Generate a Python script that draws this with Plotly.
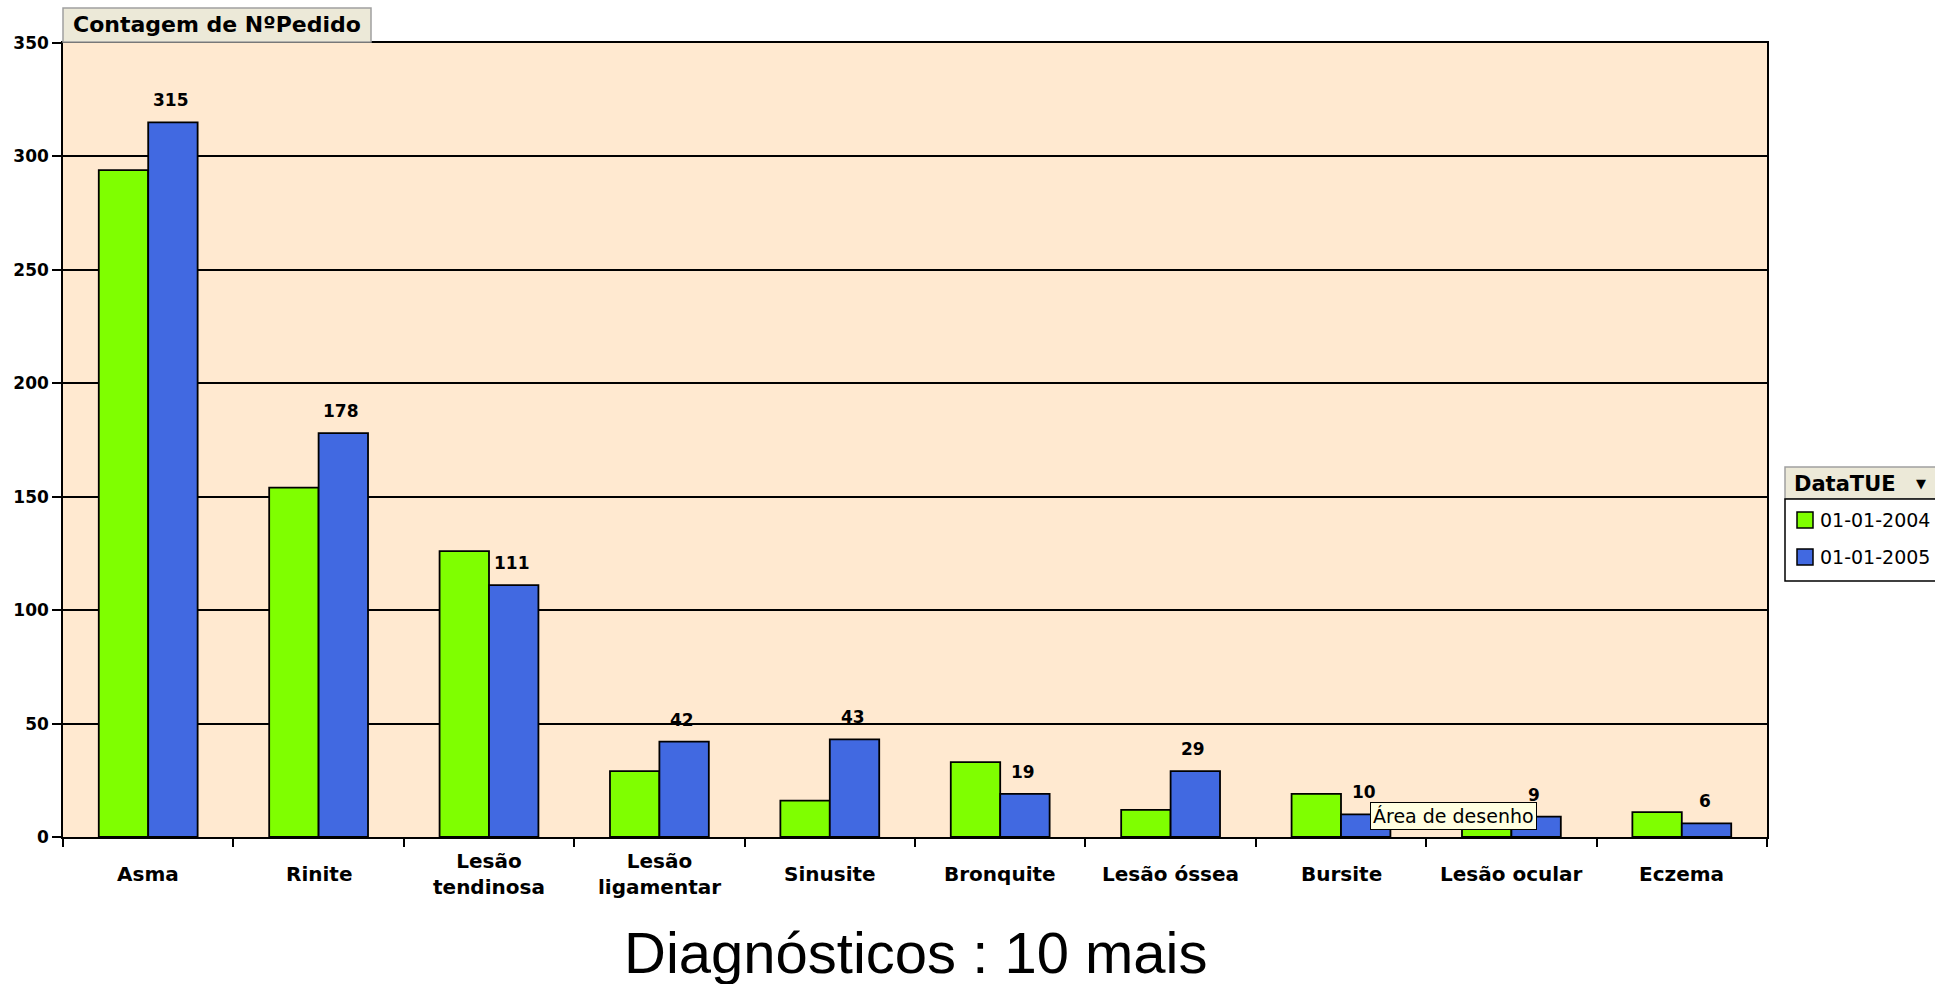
import plotly.graph_objects as go

# chart data
categories = ["Asma", "Rinite", "Lesão tendinosa", "Lesão ligamentar", "Sinusite",
              "Bronquite", "Lesão óssea", "Bursite", "Lesão ocular", "Eczema"]
tick_labels = ["Asma", "Rinite", "Lesão<br>tendinosa", "Lesão<br>ligamentar", "Sinusite",
               "Bronquite", "Lesão óssea", "Bursite", "Lesão ocular", "Eczema"]
series_names = ["01-01-2004", "01-01-2005"]
counts_2004 = [294, 154, 126, 29, 16, 33, 12, 19, 8, 11]
counts_2005 = [315, 178, 111, 42, 43, 19, 29, 10, 9, 6]
y_ticks = [0, 50, 100, 150, 200, 250, 300, 350]

GREEN = "#7FFF00"
BLUE = "#4169E1"
PLOT_BG = "#FFE9D0"
PANEL_BG = "#ECE9D8"
FONT = "DejaVu Sans"
BARGAP = 0.42

W, H = 1935, 984
ML, MR, MT, MB = 63, 168, 43, 147
PW, PH = W - ML - MR, H - MT - MB


def px(x):
    return (x - ML) / PW


def py(y):
    return (H - MB - y) / PH


fig = go.Figure()
for name, vals, col in zip(series_names, [counts_2004, counts_2005], [GREEN, BLUE]):
    fig.add_bar(x=categories, y=vals, name=name, marker_color=col,
                marker_line=dict(color="black", width=1.8))

fig.update_layout(
    width=W, height=H,
    margin=dict(l=ML, r=MR, t=MT, b=MB),
    paper_bgcolor="white",
    plot_bgcolor=PLOT_BG,
    barmode="group",
    bargap=BARGAP,
    bargroupgap=0,
    showlegend=False,
    font=dict(family=FONT, color="black"),
)
fig.update_xaxes(
    showticklabels=False, showline=True, linecolor="black", linewidth=1.5, mirror=True,
    ticks="outside", tickson="boundaries", ticklen=8, tickcolor="black", tickwidth=1.5,
    showgrid=False,
)
fig.update_yaxes(
    range=[0, 350], tickvals=y_ticks, showline=True, linecolor="black", linewidth=1.5,
    mirror=True, ticks="outside", ticklen=9, tickcolor="black", tickwidth=1.5,
    showgrid=True, gridcolor="black", gridwidth=1.5, zeroline=False,
    tickfont=dict(family=FONT, size=17, color="black", weight="bold"),
)

# value labels over the 2005 bars
blue_shift = PW / len(categories) * (1 - BARGAP) / 4
for cat, v in zip(categories, counts_2005):
    fig.add_annotation(x=cat, y=v, text=f"<b>{v}</b>", showarrow=False, yanchor="bottom",
                       xshift=blue_shift - 2, yshift=10,
                       font=dict(family=FONT, size=17, color="black"))

# category labels, vertically centred like the original
for cat, lab in zip(categories, tick_labels):
    fig.add_annotation(x=cat, xref="x", y=py(874), yref="paper", text=f"<b>{lab}</b>",
                       showarrow=False, yanchor="middle",
                       font=dict(family=FONT, size=20, color="black"))

# axis title
fig.add_annotation(x=0.5, xref="paper", y=py(952), yref="paper", text="Diagnósticos : 10 mais",
                   showarrow=False, yanchor="middle",
                   font=dict(family="Liberation Sans, Arial", size=58, color="black"))

# "Contagem de NºPedido" field button
fig.add_shape(type="rect", xref="paper", yref="paper", x0=px(63), x1=px(371), y0=py(42), y1=py(8),
              fillcolor=PANEL_BG, line=dict(color="#A0A0A0", width=1.5), layer="above")
fig.add_annotation(x=px(71), xref="paper", y=py(25), yref="paper", text="<b>Contagem de NºPedido</b>",
                   showarrow=False, xanchor="left", yanchor="middle",
                   font=dict(family=FONT, size=22, color="black"))

# legend panel (DataTUE)
fig.add_shape(type="rect", xref="paper", yref="paper", x0=px(1785), x1=px(1945), y0=py(499), y1=py(467),
              fillcolor=PANEL_BG, line=dict(color="#A0A0A0", width=1.5))
fig.add_shape(type="rect", xref="paper", yref="paper", x0=px(1785), x1=px(1945), y0=py(581), y1=py(499),
              fillcolor="white", line=dict(color="black", width=1.5))
fig.add_annotation(x=px(1792), xref="paper", y=py(484), yref="paper", text="<b>DataTUE</b>",
                   showarrow=False, xanchor="left", yanchor="middle",
                   font=dict(family=FONT, size=21, color="black"))
fig.add_annotation(x=px(1921), xref="paper", y=py(483), yref="paper", text="▼",
                   showarrow=False, xanchor="center", yanchor="middle",
                   font=dict(family=FONT, size=13, color="black"))
for i, (name, col) in enumerate(zip(series_names, [GREEN, BLUE])):
    cy = 520 + i * 37
    fig.add_shape(type="rect", xref="paper", yref="paper", x0=px(1797), x1=px(1813),
                  y0=py(cy + 8), y1=py(cy - 8), fillcolor=col, line=dict(color="black", width=1.5))
    fig.add_annotation(x=px(1818), xref="paper", y=py(cy), yref="paper", text=name,
                       showarrow=False, xanchor="left", yanchor="middle",
                       font=dict(family=FONT, size=19, color="black"))

# hover tooltip caught in the screenshot
fig.add_annotation(x=px(1453), xref="paper", y=py(816), yref="paper", text="Área de desenho",
                   showarrow=False, xanchor="center", yanchor="middle",
                   bgcolor="#FFFFE1", bordercolor="black", borderwidth=1, borderpad=2,
                   font=dict(family=FONT, size=19, color="black"))

fig.write_html("out.html", config={"displayModeBar": False},
               post_script="document.body.style.margin='0';")
